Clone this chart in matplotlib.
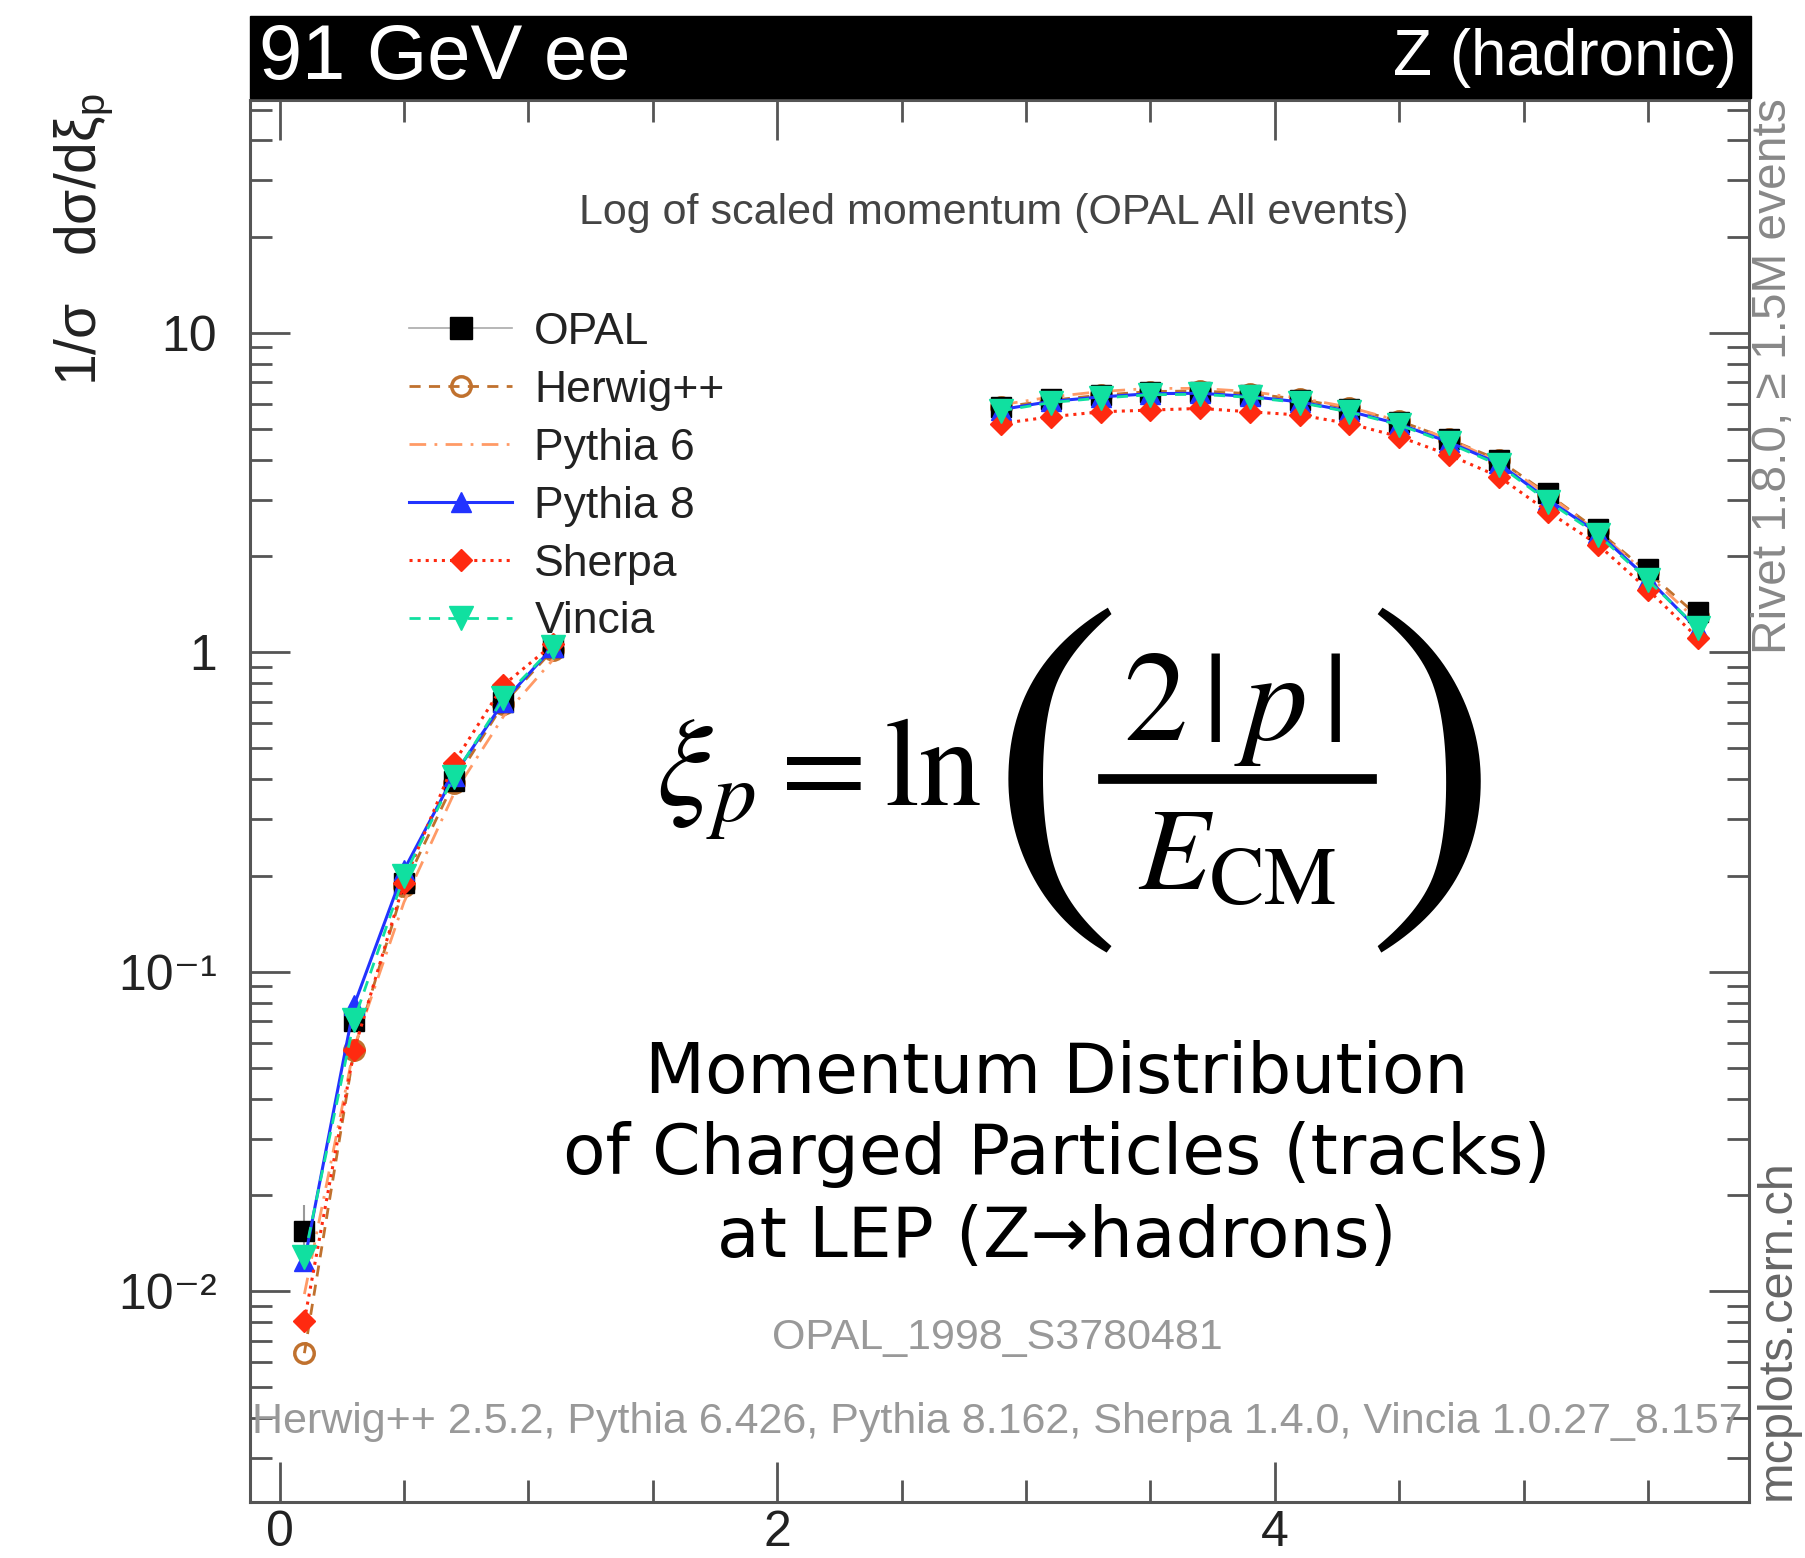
import numpy as np
import matplotlib
matplotlib.use('Agg')
import matplotlib.pyplot as plt
from matplotlib.lines import Line2D
from matplotlib.patches import Rectangle
from matplotlib.ticker import MultipleLocator, LogLocator, NullFormatter

plt.rcParams['font.family'] = ['Liberation Sans', 'DejaVu Sans']
plt.rcParams['mathtext.fontset'] = 'custom'
plt.rcParams['mathtext.rm'] = 'Liberation Sans'
plt.rcParams['mathtext.it'] = 'Liberation Sans:italic'
plt.rcParams['mathtext.bf'] = 'Liberation Sans:bold'

nan = np.nan

# bin centres of xi_p (bins 1.3 - 2.7 are hidden behind the overlay text)
xi = [0.1, 0.3, 0.5, 0.7, 0.9, 1.1,
      1.3, 1.5, 1.7, 1.9, 2.1, 2.3, 2.5, 2.7,
      2.9, 3.1, 3.3, 3.5, 3.7, 3.9, 4.1, 4.3, 4.5, 4.7, 4.9, 5.1, 5.3, 5.5, 5.7]
hidden = [nan] * 8

opal = [0.0154, 0.070, 0.190, 0.395, 0.70, 1.04] + hidden + \
       [5.87, 6.19, 6.39, 6.54, 6.54, 6.39, 6.16, 5.77, 5.27, 4.64, 4.00, 3.15, 2.43, 1.82, 1.34]
opal_err = [0.0032, 0.002, 0.004, 0.006, 0.01, 0.01] + hidden + \
           [0.05, 0.05, 0.05, 0.05, 0.05, 0.05, 0.05, 0.05, 0.05, 0.05, 0.04, 0.04, 0.03, 0.03, 0.03]
herwig = [0.0064, 0.057, 0.185, 0.39, 0.69, 1.02] + hidden + \
         [5.85, 6.15, 6.38, 6.55, 6.58, 6.45, 6.20, 5.80, 5.30, 4.65, 4.00, 3.12, 2.40, 1.78, 1.30]
pythia6 = [0.0098, 0.058, 0.165, 0.36, 0.63, 0.95] + hidden + \
          [5.95, 6.30, 6.55, 6.70, 6.70, 6.55, 6.25, 5.85, 5.30, 4.65, 3.95, 3.10, 2.38, 1.75, 1.25]
pythia8 = [0.0124, 0.0787, 0.208, 0.41, 0.70, 1.04] + hidden + \
          [5.75, 6.10, 6.30, 6.45, 6.47, 6.32, 6.08, 5.68, 5.18, 4.55, 3.90, 3.00, 2.36, 1.70, 1.18]
sherpa = [0.0081, 0.0569, 0.19, 0.45, 0.79, 1.06] + hidden + \
         [5.20, 5.46, 5.66, 5.73, 5.80, 5.66, 5.53, 5.20, 4.73, 4.15, 3.55, 2.75, 2.17, 1.57, 1.11]
vincia = [0.0128, 0.0706, 0.199, 0.408, 0.718, 1.04] + hidden + \
         [5.70, 6.05, 6.25, 6.40, 6.42, 6.28, 6.05, 5.65, 5.15, 4.51, 3.86, 2.96, 2.33, 1.68, 1.19]

yticks = [0.01, 0.1, 1, 10]
ytick_labels = ['10⁻²', '10⁻¹', '1', '10']
xticks = [0, 2, 4]

W, H = 1805, 1558
fig = plt.figure(figsize=(W / 100, H / 100), dpi=100)
ax = fig.add_axes([250 / W, 1 - 1502 / H, (1749 - 250) / W, (1502 - 100) / H])


def fx(px):
    return px / W


def fy(py):
    return 1 - py / H


# header bar
fig.add_artist(Rectangle((fx(250), fy(98)), (1751 - 250) / W, (98 - 16) / H,
                         transform=fig.transFigure, color='black', zorder=5))
fig.text(fx(259), fy(58), '91 GeV ee', color='white', fontsize=56,
         ha='left', va='center', zorder=6)
fig.text(fx(1737), fy(58), 'Z (hadronic)', color='white', fontsize=46,
         ha='right', va='center', zorder=6)

# data + MC
ax.errorbar(xi, opal, yerr=opal_err, fmt='s', color='black', ms=14,
            ecolor='#999999', elinewidth=1.5, capsize=0, zorder=3)
h_herwig, = ax.plot(xi, herwig, ls=(0, (4, 3)), lw=2, color='#c0712e', marker='o',
                    ms=14, mfc='none', mec='#c0712e', mew=2.5, zorder=3)
h_py6, = ax.plot(xi, pythia6, ls=(0, (6, 3, 1, 3)), lw=2, color='#ff9a66', zorder=3)
h_py8, = ax.plot(xi, pythia8, ls='-', lw=2.2, color='#2233ff', marker='^', ms=15,
                 mec='#2233ff', zorder=4)
h_sherpa, = ax.plot(xi, sherpa, ls=':', lw=2.2, color='#ff2a10', marker='D', ms=11,
                    mec='#ff2a10', zorder=4)
h_vincia, = ax.plot(xi, vincia, ls=(0, (4, 3)), lw=2, color='#10e0a0', marker='v',
                    ms=17, mec='#10e0a0', zorder=5)
h_opal = Line2D([], [], color='#aaaaaa', lw=1.2, marker='s', ms=16, mfc='black', mec='black')

leg = ax.legend([h_opal, h_herwig, h_py6, h_py8, h_sherpa, h_vincia],
                ['OPAL', 'Herwig++', 'Pythia 6', 'Pythia 8', 'Sherpa', 'Vincia'],
                loc='upper left', bbox_to_anchor=(fx(409), fy(312)),
                bbox_transform=fig.transFigure, frameon=False, fontsize=32,
                handlelength=2.32, handletextpad=0.5, labelspacing=0.38,
                borderpad=0, borderaxespad=0)
for t in leg.get_texts():
    t.set_color('#222222')

# axes style
ax.set_yscale('log')
ax.set_xlim(-0.1186, 5.906)
ax.set_ylim(0.00219, 53.55)
ax.set_xticks(xticks)
ax.set_xticklabels([str(v) for v in xticks])
ax.xaxis.set_minor_locator(MultipleLocator(0.5))
ax.set_yticks(yticks)
ax.set_yticklabels(ytick_labels)
ax.yaxis.set_minor_locator(LogLocator(base=10, subs=np.arange(2, 10)))
ax.yaxis.set_minor_formatter(NullFormatter())
ax.tick_params(which='both', direction='in', top=True, right=True, color='#555555',
               width=2, labelcolor='#222222', labelsize=36)
ax.tick_params(which='major', length=29)
ax.tick_params(which='minor', length=16)
ax.tick_params(axis='y', which='major', pad=24)
ax.tick_params(axis='x', which='major', pad=6)
for s in ax.spines.values():
    s.set_color('#555555')
    s.set_linewidth(2.2)

# labels around the frame
fig.text(fx(84), fy(93), r'1/σ   dσ/dξ$_\mathregular{p}$', rotation=90,
         ha='center', va='top', fontsize=41, color='#222222')
fig.text(fx(994), fy(213), 'Log of scaled momentum (OPAL All events)',
         ha='center', va='center', fontsize=31, color='#444444')
fig.text(fx(997), fy(1338), 'OPAL_1998_S3780481', ha='center', va='center',
         fontsize=31, color='#999999')
fig.text(fx(997), fy(1422),
         'Herwig++ 2.5.2, Pythia 6.426, Pythia 8.162, Sherpa 1.4.0, Vincia 1.0.27_8.157',
         ha='center', va='center', fontsize=31, color='#999999')
fig.text(fx(1773), fy(98), 'Rivet 1.8.0, ≥ 1.5M events', rotation=90,
         ha='center', va='top', fontsize=34.5, color='#888888')
fig.text(fx(1777), fy(1500), 'mcplots.cern.ch', rotation=90,
         ha='center', va='bottom', fontsize=35, color='#666666')

# overlay annotation: xi_p = ln( 2|p| / E_CM )
fig.text(fx(656), fy(806), r'$\xi_p = \ln$', math_fontfamily='stix', fontsize=90,
         ha='left', va='baseline', zorder=10)
fig.text(fx(1050), fy(777), r'$($', math_fontfamily='stix', fontsize=290,
         ha='center', va='center', zorder=10)
fig.text(fx(1423), fy(777), r'$)$', math_fontfamily='stix', fontsize=290,
         ha='center', va='center', zorder=10)
fig.text(fx(1232), fy(740), r'$2\,|\,p\,|$', math_fontfamily='stix', fontsize=92,
         ha='center', va='baseline', zorder=10)
fig.add_artist(Line2D([fx(1103), fx(1372)], [fy(779), fy(779)], color='black',
                      lw=7, transform=fig.transFigure, zorder=10))
fig.text(fx(1237), fy(889), r'$E_{\mathrm{CM}}$', math_fontfamily='stix', fontsize=84,
         ha='center', va='baseline', zorder=10)

lines = ['Momentum Distribution', 'of Charged Particles (tracks)', 'at LEP (Z→hadrons)']
for txt, yy in zip(lines, [1073, 1155, 1237]):
    fig.text(fx(1057), fy(yy), txt, family='DejaVu Sans', fontsize=50,
             ha='center', va='center', color='black', zorder=10)

fig.savefig('out.png', dpi=100)
